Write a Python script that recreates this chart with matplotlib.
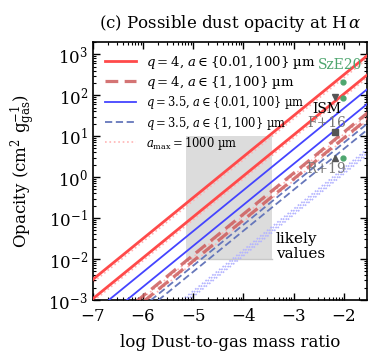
import numpy as np
import matplotlib
matplotlib.use('Agg')
import matplotlib.pyplot as plt
from matplotlib.patches import Rectangle
from matplotlib.ticker import FixedLocator

plt.rcParams['font.family'] = 'DejaVu Serif'
plt.rcParams['mathtext.fontset'] = 'dejavuserif'

# dust opacity per gram of dust (cm^2 g_dust^-1), two compositions per model
kappa_q4_small = [31600., 10700.]      # q=4, a in {0.01,100} um
kappa_q4_large = [1250., 900.]         # q=4, a in {1,100} um
kappa_q35_small = [4800., 2100.]       # q=3.5, a in {0.01,100} um
kappa_q35_large = [690., 490.]         # q=3.5, a in {1,100} um
kappa_q4_amax1000 = [26500., 9100., 1120., 820.]
kappa_q35_amax1000 = [166., 150., 132., 120.]

# literature estimates
ism_x, ism_y = -2.18, 90.
f16_x, f16_y = -2.18, 12.5
r19_x, r19_y = -2.18, 2.9
sze20_x = [-2.02, -2.02, -2.02]
sze20_y = [210., 85., 2.9]

# likely region
likely_x = [-5.15, -3.43]
likely_y = [0.01, 10.]

labels = [r'$q=4$, $a\in\{0.01,100\}$ µm',
          r'$q=4$, $a\in\{1,100\}$ µm',
          r'$q=3.5$, $a\in\{0.01,100\}$ µm',
          r'$q=3.5$, $a\in\{1,100\}$ µm',
          r'$a_{\rm max}=1000$ µm']

xx = np.linspace(-8, -1, 50)

fig = plt.figure(figsize=(3.9, 3.61), dpi=100)
ax = fig.add_axes([0.238, 0.169, 0.703, 0.715])

ax.add_patch(Rectangle((likely_x[0], likely_y[0]), likely_x[1] - likely_x[0],
                       likely_y[1] - likely_y[0], facecolor='#dcdcdc',
                       edgecolor='none', zorder=0))
ax.plot(likely_x, [likely_y[0]] * 2, color='#c8c8c8', lw=1, zorder=0)
ax.text(-3.36, 0.02, 'likely\nvalues', fontsize=11, ha='left', va='center',
        linespacing=1.1)

for i, k in enumerate(kappa_q4_amax1000):
    ax.plot(xx, k * 10**xx, ':', color='#ffb4b4', lw=1.2,
            label=labels[4] if i == 0 else None, zorder=1)
for k in kappa_q35_amax1000:
    ax.plot(xx, k * 10**xx, ':', color='#b4b4ff', lw=1.2, zorder=1)
for i, k in enumerate(kappa_q4_small):
    ax.plot(xx, k * 10**xx, '-', color='#ff4a4a', lw=2,
            label=labels[0] if i == 0 else None, zorder=3)
for i, k in enumerate(kappa_q4_large):
    ax.plot(xx, k * 10**xx, '--', color='#cd5c5c', lw=2.3, dashes=(4, 2),
            alpha=0.85, label=labels[1] if i == 0 else None, zorder=3)
for i, k in enumerate(kappa_q35_small):
    ax.plot(xx, k * 10**xx, '-', color='#4444ff', lw=1.3,
            label=labels[2] if i == 0 else None, zorder=3)
for i, k in enumerate(kappa_q35_large):
    ax.plot(xx, k * 10**xx, '--', color='#6677bb', lw=1.3, dashes=(4, 2),
            label=labels[3] if i == 0 else None, zorder=3)

ax.plot(sze20_x, sze20_y, 'o', color='#4ea66f', ms=3.5, zorder=5)
ax.plot(ism_x, ism_y, 'v', color='#555555', ms=5, zorder=5)
ax.plot(f16_x, f16_y, 's', color='#555555', ms=4, zorder=5)
ax.plot(r19_x, r19_y, '^', color='#555555', ms=4.5, zorder=5)
ax.text(-2.08, 560, 'SzE20', color='#4ea66f', fontsize=10, ha='center', va='center')
ax.text(-2.35, 46, 'ISM', color='black', fontsize=10, ha='center', va='center')
ax.text(-2.35, 21, 'F+16', color='#777777', fontsize=10, ha='center', va='center')
ax.text(-2.35, 1.6, 'R+19', color='#777777', fontsize=10, ha='center', va='center')

handles, labs = ax.get_legend_handles_labels()
order = [labs.index(l) for l in labels]
leg = ax.legend([handles[i] for i in order], [labs[i] for i in order],
                loc='upper left', frameon=False, fontsize=9.5, handlelength=2.4,
                labelspacing=0.25, borderaxespad=0.5, handletextpad=0.7)
for t in leg.get_texts()[2:]:
    t.set_fontsize(8.3)

ax.set_yscale('log')
ax.set_xlim(-7, -1.54)
ax.set_ylim(1e-3, 2e3)
ax.set_xticks([-7, -6, -5, -4, -3, -2])
ax.set_xticklabels([r'$-7$', r'$-6$', r'$-5$', r'$-4$', r'$-3$', r'$-2$'])
minor = [n + np.log10(k) for n in range(-8, -1) for k in range(2, 10)]
ax.xaxis.set_minor_locator(FixedLocator(minor))
ax.tick_params(which='both', direction='in', top=True, right=True, labelsize=12)
ax.tick_params(axis='x', which='major', pad=6)
ax.tick_params(which='major', length=5, width=1)
ax.tick_params(which='minor', length=2.5, width=0.8)
for s in ax.spines.values():
    s.set_linewidth(1.2)

ax.set_xlabel('log Dust-to-gas mass ratio', fontsize=12, labelpad=6)
ax.set_ylabel(r'Opacity (cm$^2$ g$_{\rm gas}^{-1}$)', fontsize=12, labelpad=8)
ax.set_title(r'(c) Possible dust opacity at H$\,\alpha$', fontsize=12, pad=10)

fig.savefig('out.png', dpi=100)
